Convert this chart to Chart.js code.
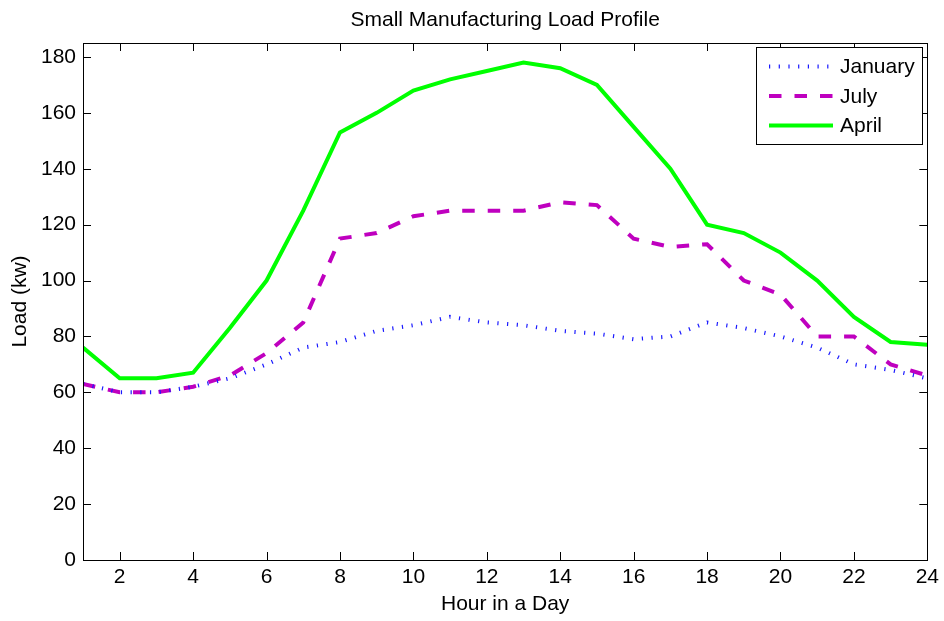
<!DOCTYPE html>
<html><head><meta charset="utf-8">
<script src="https://cdn.jsdelivr.net/npm/chart.js@4/dist/chart.umd.min.js"></script>
<style>html,body{margin:0;padding:0;background:#fff}#wrap{width:944px;height:621px}</style>
</head><body><div id="wrap"><canvas id="c" width="944" height="621"></canvas></div>
<script>
const hours = [1,2,3,4,5,6,7,8,9,10,11,12,13,14,15,16,17,18,19,20,21,22,23,24];
const january = [63,60,60,62,65,70,76,78,82,84,87,85,84,82,81,79,80,85,83,80,76,70,68,65];
const july = [63,60,60,62,66,74,85,115,117,123,125,125,125,128,127,115,112,113,100,95,80,80,70,66];
const april = [76,65,65,67,83,100,125,153,160,168,172,175,178,176,170,155,140,120,117,110,100,87,78,77];
const xTicks = [2,4,6,8,10,12,14,16,18,20,22,24];
const yTicks = [0,20,40,60,80,100,120,140,160,180];
const seriesNames = ['January','July','April'];
const chartTitle = 'Small Manufacturing Load Profile';

const FONT = "'Liberation Sans', Arial, sans-serif";
const FS = 21;

const boxPlugin = {
  id: 'boxPlugin',
  afterDatasetsDraw(chart) {
    const ctx = chart.ctx, a = chart.chartArea;
    const xs = chart.scales.x, ys = chart.scales.y;
    ctx.save();
    ctx.strokeStyle = '#000'; ctx.lineWidth = 1;
    ctx.beginPath();
    xTicks.forEach(v => {
      const px = Math.round(xs.getPixelForValue(v)) + 0.5;
      ctx.moveTo(px, a.bottom); ctx.lineTo(px, a.bottom - 8);
      ctx.moveTo(px, a.top); ctx.lineTo(px, a.top + 8);
    });
    yTicks.forEach(v => {
      const py = Math.round(ys.getPixelForValue(v)) + 0.5;
      ctx.moveTo(a.left, py); ctx.lineTo(a.left + 8, py);
      ctx.moveTo(a.right, py); ctx.lineTo(a.right - 8, py);
    });
    ctx.stroke();
    ctx.strokeRect(Math.round(a.left)+0.5, Math.round(a.top)+0.5, Math.round(a.right-a.left), Math.round(a.bottom-a.top));
    // title centred over the plot box
    ctx.fillStyle = '#000';
    ctx.font = FS + 'px ' + FONT;
    ctx.textAlign = 'center';
    ctx.textBaseline = 'middle';
    ctx.fillText(chartTitle, (a.left + a.right) / 2, 20);
    ctx.textAlign = 'left';
    // legend
    const bx = 756.5, by = 47.5, bw = 166, bh = 97;
    ctx.fillStyle = '#fff';
    ctx.fillRect(bx, by, bw, bh);
    ctx.strokeRect(bx, by, bw, bh);
    chart.data.datasets.forEach((ds, i) => {
      const y = 66.5 + i * 29.5;
      ctx.save();
      ctx.strokeStyle = ds.borderColor;
      ctx.lineWidth = ds.borderWidth;
      ctx.setLineDash(ds.borderDash || []);
      ctx.beginPath(); ctx.moveTo(769, y); ctx.lineTo(833, y); ctx.stroke();
      ctx.restore();
      ctx.fillStyle = '#000';
      ctx.fillText(ds.label, 840, y + 1);
    });
    ctx.restore();
  }
};

new Chart(document.getElementById('c'), {
  type: 'line',
  data: {
    datasets: [
      { label: seriesNames[0], data: hours.map((h,i)=>({x:h,y:january[i]})), borderColor: '#1a1aff', borderWidth: 4, borderDash: [1.2, 8.5], pointRadius: 0, tension: 0, fill: false },
      { label: seriesNames[1], data: hours.map((h,i)=>({x:h,y:july[i]})), borderColor: '#bf00bf', borderWidth: 4, borderDash: [12.5, 13], pointRadius: 0, tension: 0, fill: false },
      { label: seriesNames[2], data: hours.map((h,i)=>({x:h,y:april[i]})), borderColor: '#00ff00', borderWidth: 4, pointRadius: 0, tension: 0, fill: false }
    ]
  },
  options: {
    responsive: false, animation: false,
    layout: { padding: { left: 0, right: 16, top: 43, bottom: 0 } },
    plugins: {
      legend: { display: false },
      tooltip: { enabled: false },
      title: { display: false }
    },
    scales: {
      x: {
        type: 'linear', min: 1, max: 24,
        afterBuildTicks: s => { s.ticks = xTicks.map(v => ({ value: v })); },
        afterFit: s => { s.height = 61; },
        grid: { display: false, drawTicks: false },
        border: { display: false },
        ticks: { color: '#000', font: { family: FONT, size: FS }, padding: 5, maxRotation: 0, autoSkip: false },
        title: { display: true, text: 'Hour in a Day', color: '#000', font: { family: FONT, size: FS }, padding: { top: 0, bottom: 4.4 } }
      },
      y: {
        type: 'linear', min: 0, max: 185,
        afterBuildTicks: s => { s.ticks = yTicks.map(v => ({ value: v })); },
        afterFit: s => { s.width = 83; },
        grid: { display: false, drawTicks: false },
        border: { display: false },
        ticks: { color: '#000', font: { family: FONT, size: FS }, padding: 7, autoSkip: false },
        title: { display: true, text: 'Load (kw)', color: '#000', font: { family: FONT, size: FS }, padding: { top: 7.4, bottom: 0 } }
      }
    }
  },
  plugins: [boxPlugin]
});
</script></body></html>
